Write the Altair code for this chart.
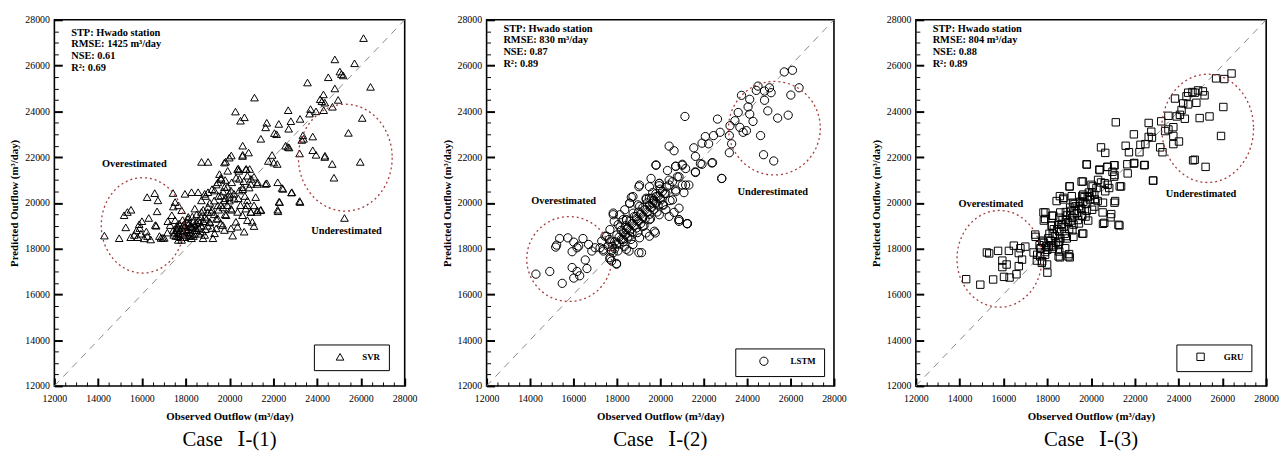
import altair as alt
import pandas as pd

# ---------------- data ----------------
axis_min, axis_max = 12000, 28000
major_step = 2000
all_ticks = list(range(12000, 28001, 500))   # major every 2000, minor every 500
diag_vals = [12000, 28000]

svr_points = [
    (26120,27200),(24810,26270),(25710,26100),(25040,25740),(25110,25630),(25190,25570),(24510,25490),(23560,25260),
    (24810,25000),(26440,25070),(24960,24500),(24290,24740),(24140,24530),(24220,24440),(24350,24380),(21140,24600),
    (24700,24200),(24300,24050),(23950,24000),(23700,24100),(23650,23900),(22680,24050),(20270,23990),(20680,23740),
    (20500,23590),(26060,23710),(21700,23500),(21650,23300),(22250,23450),(22050,23050),(22150,23000),(22800,23570),
    (23220,23670),(22700,23240),(23350,22950),(23380,22800),(23800,22900),(23300,22750),(25430,23060),(21430,22800),
    (20600,22500),(20600,22100),(20870,22200),(22660,22450),(22560,22500),(22720,22420),(23800,22300),(23950,22100),
    (23200,22160),(20080,22070),(24360,22060),(24690,21700),(25970,21790),(24770,21100),(21770,21830),(22180,21700),
    (18720,21790),(19020,21790),(19820,21800),(20400,21500),(20420,21400),(20770,21480),(20920,21480),(25250,19340),
    (20450,21050),(20980,21050),(20650,20950),(21280,20900),(20900,20670),(21700,20860),(22200,20900),(22400,20650),
    (22830,20450),(23200,20080),(22260,20050),(22200,19700),(20980,19600),(21430,19700),
    (19766,21762),(19990,21977),(20592,22049),(21944,22092),(22019,21762),(24347,22006),(19541,21258),(19616,21043),
    (19916,21402),(20367,21474),(20742,21474),(20817,21187),(21117,21143),(21268,20827),(21644,20827),(22440,20611),
    (22846,20467),(22290,20036),(23221,20036),(22215,19633),(20967,20827),(20592,20683),(20442,20539),(20066,20539),
    (19766,20683),(19466,20899),(19316,20539),(19015,20467),(18865,20395),(19616,20324),(20217,20180),(20817,20108),
    (21193,20252),(21117,19892),(20742,19749),(20367,19605),(21418,19677),(21268,19677),(20967,19605),(20592,19461),
    (20292,19173),(21042,19173),(21117,18986),(20667,18742),(20142,18569),(19766,18814),(19316,18670),(18865,18598),
    (19241,18454),(18790,18454),(18264,18454),(17813,18382),(18414,18814),(18114,19389),(18414,19749),(18715,20108),
    (18565,20467),(18264,20467),(17963,20395),(17513,20036),(17663,19892),(17813,19677),(17363,19461),(17513,19245),
    (17288,19029),(17438,18814),(17663,18670),(17588,18886),(17888,19029),(18039,18814),(18264,18958),(18565,19245),
    (18865,19389),(19165,19605),(19466,19892),(19766,20108),(19991,20252),(19015,19820),(18715,19605),(19090,19173),
    (19466,19317),(19841,19461),(20066,19749),(19691,19029),(19391,18886),(20066,18886),(20367,18958),(20817,19245),
    (21268,19605),
    (17500,18700),(17600,18800),(17700,18650),(17800,18900),(17900,18750),(18000,18600),(18100,18850),(18200,18700),
    (18300,18950),(18400,18650),(18500,18800),(17600,19000),(17700,19100),(17900,19050),(18050,19150),(18200,19000),
    (18350,19200),(18500,19100),(18600,18900),(18700,19000),(18800,19200),(17550,18550),(17750,18500),(17950,18500),
    (18150,18550),(18350,18550),(18600,18650),(18750,18750),(18900,18850),(19000,19000),(19100,19150),(19200,18900),
    (18950,19300),(18700,19400),(18500,19500),(18300,19400),(18100,19300),(17850,19250),(19300,19500),(19500,19700),
    (19700,19800),(19400,19300),(19600,19100),(19800,19500),(19900,19900),(20000,20100),(20100,19700),(19200,19700),
    (19000,19600),(18800,19700),(19100,20000),(19300,20100),(19500,20300),(19700,20500),(19900,20700),(20100,20900),
    (20300,21100),(20200,20400),(20400,20200),(20000,20400),(19800,20200),(19600,19900),(18900,20300),(19200,20600),
    (19400,20800),(19600,21100),(19800,21000),(20600,20600),(20700,20300),(20500,19900),(20800,19900),
    (17450,18600),(17650,18550),(17850,18650),(18050,18700),(18250,18600),(18450,18900),(17750,18800),(17950,18950),
    (18150,19100),(18400,19050),(17650,18950),(18650,19150),
    (14285,18569),(14960,18456),(15260,18930),(15335,19600),(15185,19460),(15485,18500),(15875,19070),(16237,20250),
    (16583,20425),(16730,20110),(16690,19630),(16310,19340),(15800,18500),(15950,18650),(16100,18450),(16250,18550),
    (16200,18750),(16610,19030),(16650,19000),(16870,18470),(16950,18470),(17020,18470),(15900,18900),(15750,18800),
    (15650,18600),(17420,20430),(17430,19840),(17180,19200),(17160,18700),(17660,18380),(15500,19700),(16000,19200),
    (16400,18400),(16800,18550),
]

lstm_points = [
    (25711,25722),(26089,25794),(26392,25030),(26014,24713),(24953,24021),(25407,23705),(25892,23834),(24620,22941),
    (24756,22105),(25226,21831),(24423,24915),(24802,24887),(25030,25030),(24500,25103),(25105,24815),(24802,24483),
    (23741,24699),(24120,24526),(24044,24195),(23590,23950),(24120,23878),(24271,23561),(23968,23157),(23438,23590),
    (23211,23373),(23665,23301),(23817,23085),(23181,22941),(23287,22581),(23181,22191),(22635,23662),(22756,23085),
    (22832,21068),(22453,22941),(22226,22581),(22408,21759),(22075,22898),(21923,22609),(21544,22407),(21620,22033),
    (21923,21687),(21620,21327),(21135,23777),(20408,22480),(20635,22278),(19802,21658),(20332,21413),(20711,21601),
    (21014,21687),(21166,21500),(20787,21140),(21014,20780),(21317,20780),(21090,20448),(20711,20492),(20560,20924),
    (19575,21068),(19954,20852),(20408,20780),(20029,20132),(20256,19700),(20635,19584),(20863,19267),(21241,19094),
    (19499,20203),(19014,20708),(18666,20247),(18590,19987),(18363,19699),(17833,19555),(17878,19194),(18287,19267),
    (19803,21643),(20711,21599),(21015,21643),(21848,21715),(22378,21743),(22832,21066),(21621,21354),(19045,20778),
    (19500,20706),(19954,20850),(20408,20994),(20863,21138),(21166,20778),(20711,20562),(20257,20418),(19803,20274),
    (19348,20202),(18742,20274),(18591,19985),(18969,19913),(19652,19985),(20105,19913),(20560,20130),(20863,19769),
    (20863,19265),(21242,19092),(20408,19409),(19954,19481),(19500,19265),(19727,18761),(19197,18977),(18894,19409),
    (18439,19265),(18136,19481),(17833,19481),(18060,19049),(17681,18833),(17530,18544),(17303,18328),(17378,17968),
    (17833,17824),(17681,17536),(17984,17320),(18439,17968),(18742,18184),(19136,17824),(18591,18544),(19045,18472),
    (19348,18688),(18439,18833),(18287,18400),
    (17800,18100),(17900,18300),(18000,18200),(18100,18500),(18200,18400),(18300,18700),(18400,18600),(18500,18900),
    (18600,18800),(18700,19100),(18800,19000),(18900,19300),(19000,19200),(19100,19500),(19200,19400),(19300,19700),
    (19400,19600),(19500,19900),(19600,19800),(19700,20100),(19800,20000),(19900,20300),(20000,20200),(20100,20500),
    (20200,20400),(20300,20700),(17700,18300),(17900,18000),(18100,18200),(18300,18300),(18500,18500),(18700,18700),
    (18900,18900),(19100,19100),(19300,19300),(19500,19500),(19700,19700),(19900,19900),(18000,18600),(18200,18800),
    (18400,19000),(18600,19200),(18800,19400),(19000,19600),(19200,19800),(19400,20000),(19600,20200),(19800,20400),
    (20000,20600),(17600,18100),(17650,18400),(17750,17900),(18050,17900),(18350,18100),(18650,18400),(18950,18700),
    (19250,19000),(19550,19300),(19850,19600),(20150,19900),(20450,20100),(18150,18950),(18450,19250),(18750,19550),
    (19050,19850),(19350,20150),(19650,20450),(19950,20750),
    (14272,16886),(14909,17002),(15484,16483),(15181,18068),(15227,18154),(15363,18443),(15742,18471),(16015,18284),
    (16439,18443),(16166,18039),(15939,17866),(16242,18111),(16696,18183),(16848,17895),(16545,17506),(16621,17131),
    (15939,17175),(16166,17002),(16287,16814),(16015,16713),(16999,18039),(17378,17895),(17227,18039),(17454,18544),
    (17681,17607),(17757,17463),(17984,17347),(18560,17895),(19014,17823),(19499,18544),(19772,18688),(20863,19192),
    (21241,19091),
]

gru_points = [
    (26418,25654),(26088,25412),(25711,25441),(26043,24190),(25938,22924),(25232,21573),(24736,21886),(24661,21857),
    (25412,23777),(24961,23706),(24811,24374),(24436,24303),(24211,24346),(24136,24062),(24631,24844),(24886,24915),
    (25111,24872),(25186,24701),(24736,24815),(24436,24815),(24361,24659),(23835,24559),(24060,23848),(24286,23677),
    (23911,23777),(23760,23308),(23535,23208),(23384,23137),(23760,22924),(24016,22682),(23760,22569),(23264,22213),
    (23159,22426),(23204,23564),(23535,23806),(22633,23493),(22753,23109),(22633,22882),(22783,22853),(22483,22569),
    (22212,22213),(22257,22540),(21957,22995),(21582,22497),(21732,22213),(21657,21687),(21957,21715),(22453,21658),
    (22828,20976),(21131,23521),(20456,22426),(20650,22185),(19810,21673),(20380,21459),(20756,21573),(21056,21644),
    (20980,21360),(21056,21146),(21311,20720),(21101,20080),(20756,20791),(20830,20649),(20650,20507),(20456,20891),
    (19630,20933),(20080,20720),(19930,20294),(20305,20080),(19029,20720),(18578,20294),(18728,20151),(18428,20080),
    (17827,19582),(17902,19298),(18277,19440),(19179,20009),(19554,19724),(20606,19127),(21252,19042),(20530,19582),
    (20155,19838),
    (19796,21686),(20397,21430),(20743,21572),(21073,21643),(21974,21743),(22425,21643),(22845,20975),(21674,21288),
    (21073,21217),(21373,20719),(21073,20008),(20923,19510),(20893,19368),(20547,19084),(21298,19012),(19015,20719),
    (19570,20932),(20021,20790),(20322,21004),(20622,20861),(18745,20221),(19120,20292),(19646,20363),(20172,20150),
    (20547,20008),(19496,20008),(19045,19795),(18594,19581),(18219,19439),(17918,19581),(17844,19226),(18219,19012),
    (18670,19084),(19120,19226),(19571,19439),(19871,19226),(19646,18657),(19195,18515),(18895,18444),(18520,18159),
    (18820,18017),(18970,17661),(18520,17661),(18069,18088),(17769,18301),(17468,18515),(17694,18017),(17543,17733),
    (17994,17306),(17769,17448),
    (17700,18000),(17850,18250),(17950,18100),(18050,18450),(18150,18350),(18250,18650),(18350,18550),(18450,18850),
    (18550,18750),(18650,19050),(18750,18950),(18850,19250),(18950,19150),(19050,19450),(19150,19350),(19250,19650),
    (19350,19550),(19450,19850),(19550,19750),(19650,20050),(19750,19950),(19850,20250),(19950,20150),(20050,20450),
    (20150,20350),(20250,20650),(17800,18350),(18000,17950),(18200,18150),(18400,18250),(18600,18450),(18800,18650),
    (19000,18850),(19200,19050),(19400,19250),(19600,19450),(19800,19650),(18100,18650),(18300,18850),(18500,19050),
    (18700,19250),(18900,19450),(19100,19650),(19300,19850),(19500,20050),(19700,20250),(19900,20450),(17650,18150),
    (17900,17850),(18250,18000),(18550,18300),(18850,18550),(19150,18800),(19450,19100),(19750,19400),(20050,19700),
    (18200,19000),(18550,19350),(18850,19600),(19250,19950),(19600,20300),
    (14297,16666),(14943,16425),(15529,16652),(15244,17832),(15349,17790),(15755,17903),(15950,17477),(15950,17193),
    (16145,17306),(16025,16766),(16280,16737),(16250,17903),(16475,18131),(16700,17804),(16700,17235),(16595,16880),
    (16850,17520),(17000,18088),(16775,18017),(17377,17832),(17452,18614),(17527,17477),(17752,17377),(18007,16951),
    (17902,17733),(17677,17662),(18548,17875),(18578,17619),(18998,17761),(19028,17619),(19599,18657),(18503,18302),
    (18277,18088),
]

models = ["SVR", "LSTM", "GRU"]
shapes = ["triangle-up", "circle", "square"]
rmse = [1425, 830, 804]
nse = [0.61, 0.87, 0.88]
r2 = [0.69, 0.89, 0.89]
captions = ["Case\u2002\u2009Ⅰ-(1)", "Case\u2002\u2009Ⅰ-(2)", "Case\u2002\u2009Ⅰ-(3)"]
# ellipse centres (data units) for "overestimated" / "underestimated" zones
over_centres = [(16034, 19017), (15804, 17548), (15817, 17555)]
under_centres = [(25287, 21976), (25257, 23264), (25327, 23257)]

# ---------------- styling ----------------
SERIF = "'Liberation Serif', 'DejaVu Serif', serif"
ELL_COLOR = "#a83a3a"
H = 371
MINOR_TEST = f"datum.value % {major_step} != 0"


def ellipse_path(ratio):
    k = 0.5523
    r = ratio
    return (f"M 1 0 C 1 {k*r:.4f} {k:.4f} {r:.4f} 0 {r:.4f} "
            f"C {-k:.4f} {r:.4f} -1 {k*r:.4f} -1 0 "
            f"C -1 {-k*r:.4f} {-k:.4f} {-r:.4f} 0 {-r:.4f} "
            f"C {k:.4f} {-r:.4f} 1 {-k*r:.4f} 1 0 Z")


def make_axis(title, label_pad, title_pad):
    # axis line pulled 8px inside the frame so that its outward ticks point into the plot
    return alt.Axis(
        values=all_ticks, offset=-8, ticks=True, tickSize=8, tickColor="black",
        tickWidth={"condition": {"test": MINOR_TEST, "value": 1}, "value": 2},
        tickDash={"condition": {"test": MINOR_TEST, "value": [0, 4, 4, 100]}, "value": [100, 1]},
        domain=False, grid=False,
        labelExpr=f"datum.value % {major_step} == 0 ? datum.label : ''",
        labelFont=SERIF, labelFontSize=10, labelColor="black", labelPadding=label_pad,
        labelFlush=False, labelOverlap=False, format="d",
        title=title, titleFont=SERIF, titleFontSize=11, titleFontWeight="bold",
        titleColor="black", titlePadding=title_pad)


def panel(i, points, W, pt_size, ell_over, ell_under, stat_y, over_xy, under_xy,
          leg_sym_off, leg_lab_off, leg_offset):
    xs = alt.Scale(domain=[axis_min, axis_max], nice=False, zero=False)
    ys = alt.Scale(domain=[axis_min, axis_max], nice=False, zero=False)
    X = alt.X("obs:Q", scale=xs, axis=make_axis("Observed Outflow (m³/day)", 8, 7))
    Y = alt.Y("pred:Q", scale=ys, axis=make_axis("Predicted Outflow (m³/day)", 5, 5))

    df = pd.DataFrame(points, columns=["obs", "pred"])
    df["model"] = models[i]

    diag = alt.Chart(pd.DataFrame({"obs": diag_vals, "pred": diag_vals})).mark_line(
        color="#888888", strokeWidth=1, strokeDash=[7, 6]).encode(x=X, y=Y)

    pts = alt.Chart(df).mark_point(filled=False, strokeWidth=1, size=pt_size, opacity=1,
                                   color="black").encode(
        x=X, y=Y,
        shape=alt.Shape("model:N", scale=alt.Scale(domain=[models[i]], range=[shapes[i]]),
                        legend=alt.Legend(title=None, orient="bottom-right", offset=leg_offset,
                                          strokeColor="black", fillColor="white", padding=8,
                                          labelFont=SERIF, labelFontSize=9, labelFontWeight="bold",
                                          labelColor="black", symbolOffset=leg_sym_off,
                                          labelOffset=leg_lab_off, symbolSize=pt_size,
                                          symbolStrokeColor="black", symbolStrokeWidth=1,
                                          symbolFillColor="transparent")))

    layers = [diag, pts]
    for (cx, cy), (w, ratio) in zip([over_centres[i], under_centres[i]], [ell_over, ell_under]):
        layers.append(alt.Chart(pd.DataFrame({"obs": [cx], "pred": [cy]})).mark_point(
            shape=ellipse_path(ratio), size=w * w, filled=False, color=ELL_COLOR,
            strokeWidth=1.3, strokeDash=[2, 3], opacity=1).encode(x=X, y=Y))

    stats = ["STP: Hwado station", f"RMSE: {rmse[i]} m³/day", f"NSE: {nse[i]:.2f}", f"R²: {r2[i]:.2f}"]
    layers.append(alt.Chart(pd.DataFrame({"k": [0]})).mark_text(
        text=stats, align="left", baseline="top", font=SERIF, fontSize=10.5, fontWeight="bold",
        lineHeight=11.8, color="black").encode(x=alt.value(17), y=alt.value(stat_y)))
    layers.append(alt.Chart(pd.DataFrame({"k": [0]})).mark_text(
        text="Overestimated", align="center", baseline="middle", font=SERIF, fontSize=10.5,
        fontWeight="bold", color="black").encode(x=alt.value(over_xy[0]), y=alt.value(over_xy[1])))
    layers.append(alt.Chart(pd.DataFrame({"k": [0]})).mark_text(
        text="Underestimated", align="center", baseline="middle", font=SERIF, fontSize=10.5,
        fontWeight="bold", color="black").encode(x=alt.value(under_xy[0]), y=alt.value(under_xy[1])))

    return alt.layer(*layers).properties(
        width=W, height=H,
        title=alt.Title(captions[i], orient="bottom", font=SERIF, fontSize=21,
                        fontWeight="normal", color="black", offset=8, anchor="middle"))


p1 = panel(0, svr_points, 355, 60, (84, 1.15), (95, 1.14), 8, (81, 146), (296, 214), 14, 18, 16)
p2 = panel(1, lstm_points, 352, 70, (86, 1.0), (93, 1.02), 4, (78, 184), (290, 175), 16, 22, 10)
p3 = panel(2, gru_points, 355, 56, (86, 1.14), (93, 1.18), 4, (76, 187), (289, 177), 12, 19, 15)

chart = alt.hconcat(p1, p2, p3, spacing=22).resolve_scale(
    shape="independent").resolve_legend(shape="independent").configure_view(
    stroke="black", strokeWidth=1.6).properties(
    padding={"left": 0, "top": 3, "right": 0, "bottom": 0}, background="white")

chart.save("out.html", embed_options={"renderer": "svg", "actions": False})
